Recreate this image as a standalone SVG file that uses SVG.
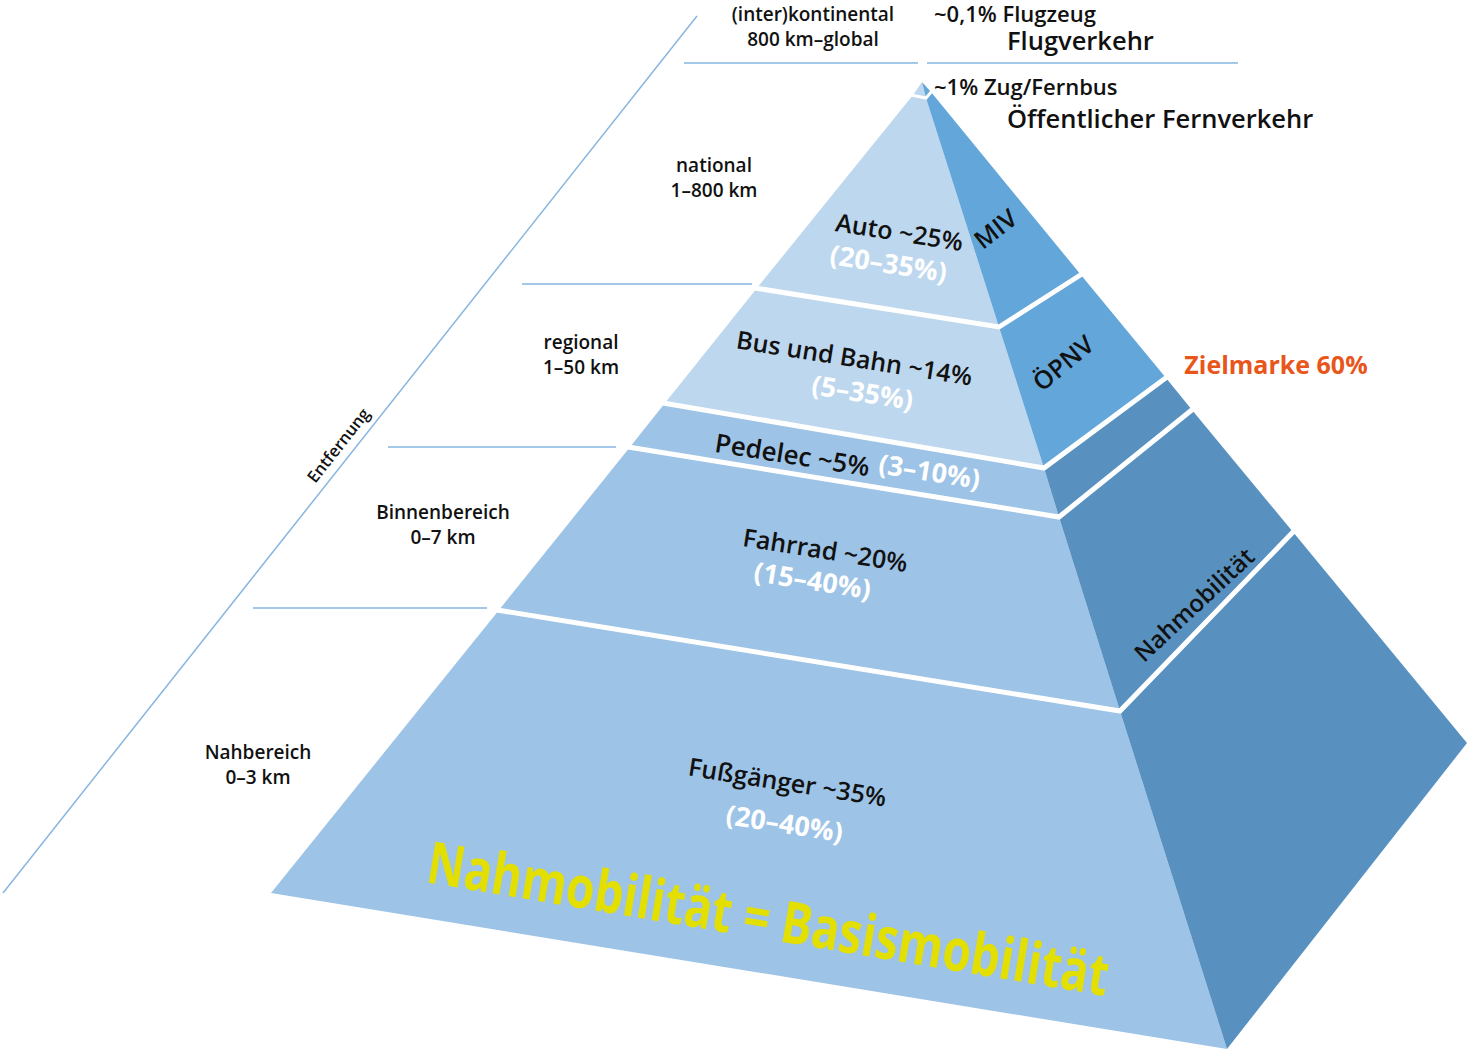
<svg xmlns="http://www.w3.org/2000/svg" width="1468" height="1054" viewBox="0 0 1468 1054">
<style>
text{font-family:"Open Sans","Liberation Sans",sans-serif;font-weight:600;}
.lbl{font-size:19px;fill:#111;text-anchor:middle;}
.blk{font-size:25px;fill:#111;text-anchor:middle;}
.wht{font-size:27px;font-weight:700;fill:#fff;text-anchor:middle;}
.top{font-size:22px;fill:#111;}
.big{font-size:25.5px;fill:#111;}
.lt{fill:#bdd7ee;}
.md{fill:#9dc3e6;}
.ru{fill:#63a6da;}
.rl{fill:#5891bf;}
.sep{fill:none;stroke:#fff;stroke-width:5;stroke-linejoin:miter;}
.guide{stroke:#86b6e0;stroke-width:1.5;fill:none;}
</style>
<rect width="1468" height="1054" fill="#fff"/>
<g id="guides">
<line class="guide" x1="3" y1="893" x2="697" y2="16"/>
<line class="guide" x1="684" y1="63" x2="918" y2="63"/>
<line class="guide" x1="927" y1="63" x2="1238" y2="63"/>
<line class="guide" x1="522" y1="284" x2="752" y2="284"/>
<line class="guide" x1="388" y1="447" x2="616" y2="447"/>
<line class="guide" x1="253" y1="608" x2="487" y2="608"/>
<text transform="translate(343,449) rotate(-51.6)" style="font-size:16.5px;fill:#111;text-anchor:middle;">Entfernung</text>
</g>
<g id="distance-labels">
<text class="lbl" x="813" y="21">(inter)kontinental</text>
<text class="lbl" x="813" y="46">800 km–global</text>
<text class="lbl" x="714" y="172">national</text>
<text class="lbl" x="714" y="197">1–800 km</text>
<text class="lbl" x="581" y="349">regional</text>
<text class="lbl" x="581" y="374">1–50 km</text>
<text class="lbl" x="443" y="519">Binnenbereich</text>
<text class="lbl" x="443" y="544">0–7 km</text>
<text class="lbl" x="258" y="759">Nahbereich</text>
<text class="lbl" x="258" y="784">0–3 km</text>
</g>
<g id="flugverkehr">
<polygon class="lt" points="922,82 913,95 926,98"/>
<polygon class="ru" points="922,82 926,98 931,92"/>
<text class="top" x="934" y="22">~0,1% Flugzeug</text>
<text class="big" x="1007" y="50">Flugverkehr</text>
</g>
<g id="fernverkehr">
<text class="top" x="934" y="95">~1% Zug/Fernbus</text>
<text class="big" x="1007" y="128">Öffentlicher Fernverkehr</text>
</g>
<g id="auto">
<polygon class="lt" points="913,95 926,98 999,327 757,288"/>
<polygon class="ru" points="926,98 999,327 1081,275 931,92"/>
<text class="blk" transform="translate(898,241) rotate(9)">Auto ~25%</text>
<text class="wht" transform="translate(887,273) rotate(9)">(20–35%)</text>
<text class="blk" transform="translate(1001,236) rotate(-38)">MIV</text>
</g>
<g id="bus-bahn">
<polygon class="lt" points="757,288 999,327 1044,468 665,403"/>
<polygon class="ru" points="999,327 1044,468 1166,378 1081,275"/>
<text class="blk" transform="translate(853,367) rotate(9)">Bus und Bahn ~14%</text>
<text class="wht" transform="translate(861,402) rotate(9)">(5–35%)</text>
<text class="blk" transform="translate(1069,370) rotate(-40)">ÖPNV</text>
</g>
<g id="pedelec">
<polygon class="md" points="665,403 1044,468 1059,517 630,447"/>
<polygon class="rl" points="1044,468 1059,517 1192,410 1166,378"/>
<text transform="translate(791,464) rotate(9)" style="font-size:26px;fill:#111;text-anchor:middle;">Pedelec ~5%</text>
<text transform="translate(928,481) rotate(9)" style="font-size:27px;font-weight:700;fill:#fff;text-anchor:middle;">(3–10%)</text>
</g>
<g id="fahrrad">
<polygon class="md" points="630,447 1059,517 1120,711 499,610"/>
<polygon class="rl" points="1059,517 1120,711 1293,532 1192,410"/>
<text class="blk" transform="translate(824,559) rotate(9)">Fahrrad ~20%</text>
<text class="wht" transform="translate(811,590) rotate(9)">(15–40%)</text>
<text transform="translate(1200,611) rotate(-43)" style="font-size:24px;fill:#111;text-anchor:middle;">Nahmobilität</text>
</g>
<g id="fussgaenger">
<polygon class="md" points="499,610 1120,711 1227,1049 271,893"/>
<polygon class="rl" points="1120,711 1227,1049 1467,743 1293,532"/>
<text class="blk" transform="translate(786,791) rotate(9)">Fußgänger ~35%</text>
<text class="wht" transform="translate(783,833) rotate(9)">(20–40%)</text>
<text transform="translate(765,939) rotate(9.5)" textLength="690" lengthAdjust="spacingAndGlyphs" style="font-size:58px;font-weight:700;fill:#e3df00;text-anchor:middle;">Nahmobilität = Basismobilität</text>
</g>
<g id="separators">
<polyline class="sep" style="stroke-width:3" points="911,95 926,98 932,91"/>
<polyline class="sep" points="755,288 999,327 1082,274"/>
<polyline class="sep" points="663,403 1044,468 1167,377"/>
<polyline class="sep" points="628,447 1059,517 1193,409"/>
<polyline class="sep" points="497,610 1120,711 1294,531"/>
</g>
<g id="zielmarke">
<text x="1276" y="374" style="font-size:25px;font-weight:700;fill:#e8561c;text-anchor:middle;">Zielmarke 60%</text>
</g>
</svg>
